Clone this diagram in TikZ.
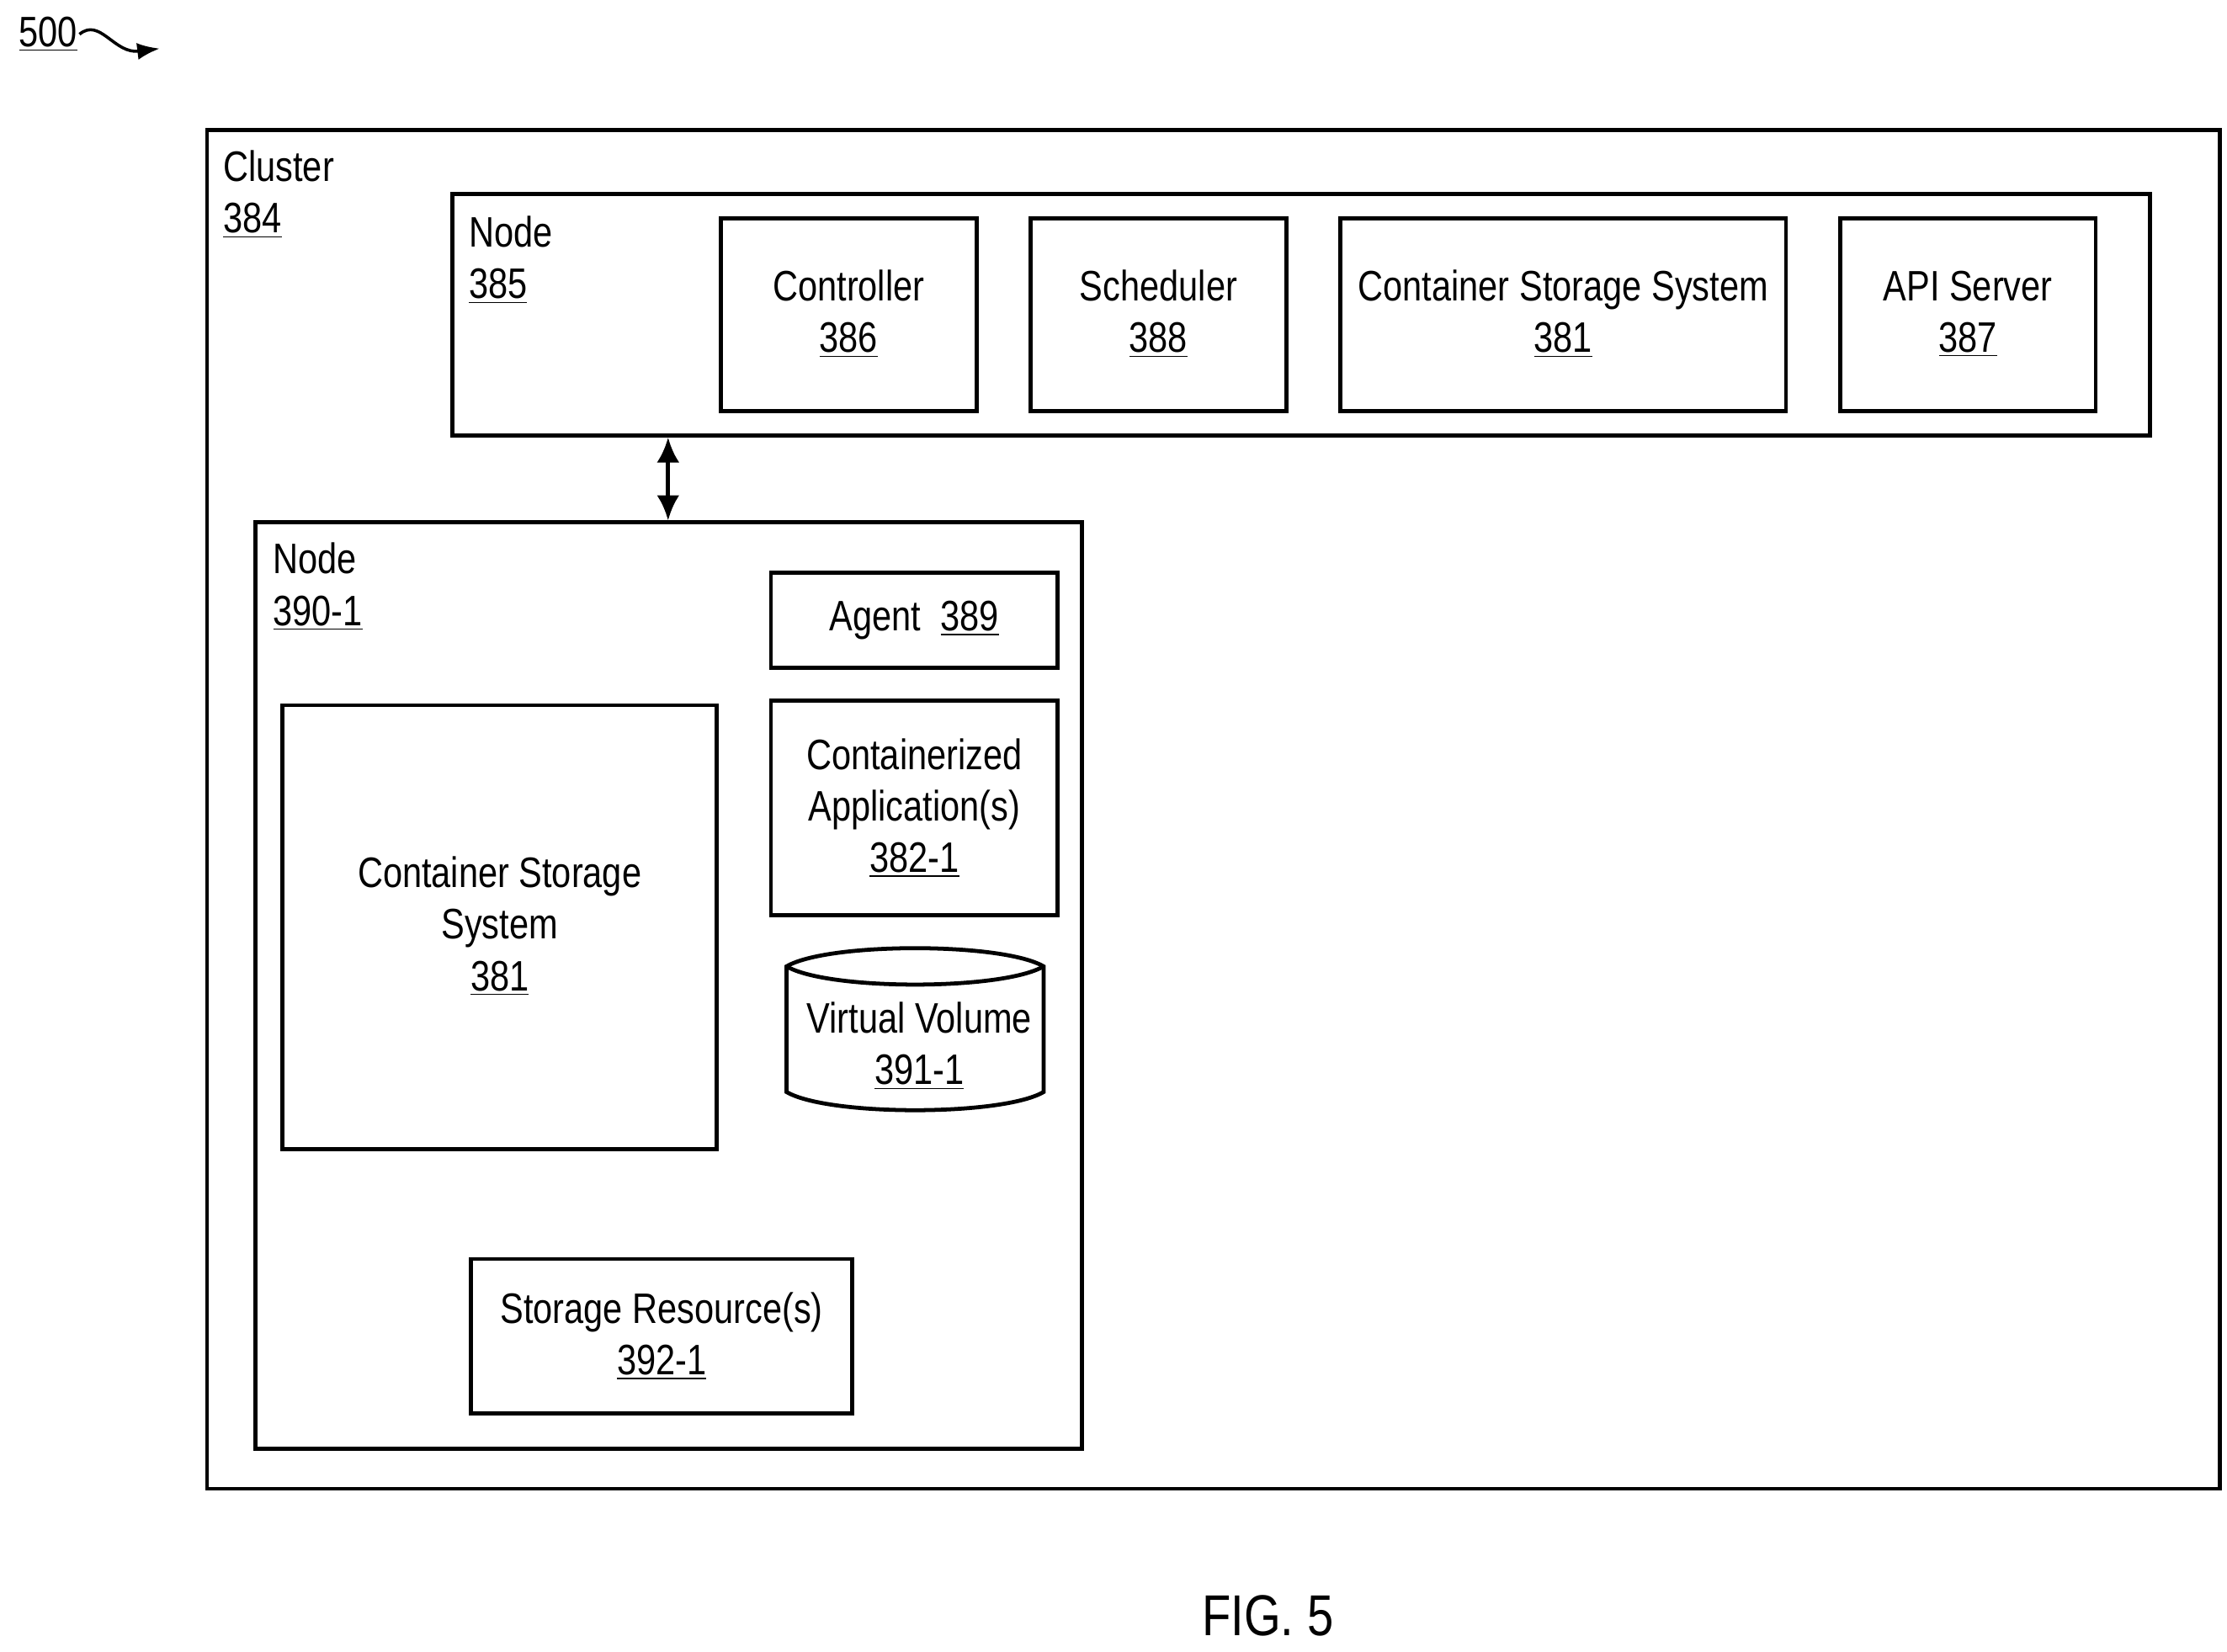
\documentclass[tikz,border=0pt]{standalone}
\usepackage{fontspec}
\usetikzlibrary{arrows.meta}
\setmainfont{Liberation Sans}[FakeStretch=0.82]
\begin{document}
\begin{tikzpicture}[x=0.02cm,y=-0.02cm,line width=1.6pt,
  box/.style={draw,black,line width=1.6pt},
  lbl/.style={inner sep=0pt,anchor=north west,align=left,font=\fontsize{17}{20.5}\selectfont},
  txt/.style={inner sep=0pt,align=center,font=\fontsize{17}{20.5}\selectfont}]
\useasboundingbox (0,0) rectangle (1560,1157);
% 500 label
\node[lbl,anchor=west] (ref) at (12,24) {\underline{500}};
\coordinate (refend) at (112,34);
\draw[line width=1.2pt,-{Latex[length=9pt]}] (ref.east) .. controls (70,12) and (80,38) .. (refend);
% cluster
\draw[box] (145,91) rectangle (1555,1043);
\node[lbl] (cl) at (155,104) {Cluster\\\underline{384}};
% node 385
\draw[box] (317,136) rectangle (1506,305);
\node (n385) at (911.5,220.5) [minimum width=1189*0.02cm,minimum height=169*0.02cm,inner sep=0pt] {};
\node[lbl] (l385) at (327,150) {Node\\\underline{385}};
\draw[box] (505,153) rectangle (684,288); \node[txt] (c386) at (594.5,220) {Controller\\\underline{386}};
\draw[box] (722,153) rectangle (901,288); \node[txt] (s388) at (811.5,220) {Scheduler\\\underline{388}};
\draw[box] (939,153) rectangle (1251,288); \node[txt] (css1) at (1095,220) {Container Storage System\\\underline{381}};
\draw[box] (1289,153) rectangle (1468,288); \node[txt] (api) at (1378.5,220) {API Server\\\underline{387}};
% node 390-1
\draw[box] (179,366) rectangle (758,1015);
\node (n390) at (468.5,690.5) [minimum width=579*0.02cm,minimum height=649*0.02cm,inner sep=0pt] {};
\node[lbl] (l390) at (190,379) {Node\\\underline{390-1}};
\draw[line width=1.6pt,{Latex[length=10pt,width=9pt]}-{Latex[length=10pt,width=9pt]}] (n385.south -| 468,0) -- (n390.north -| 468,0);
\draw[box] (540,401) rectangle (741,468); \node[txt] (ag) at (640.5,434.5) {Agent\ \ \underline{389}};
\draw[box] (540,491) rectangle (741,641); \node[txt] (ca) at (640.5,566) {Containerized\\Application(s)\\\underline{382-1}};
\draw[box] (551,677) .. controls (580,660) and (702,660) .. (731,677) -- (731,765) .. controls (702,782) and (580,782) .. (551,765) -- cycle;
\draw[box] (551,677) .. controls (580,694) and (702,694) .. (731,677);
\node[txt] (vv) at (644,733) {Virtual Volume\\\underline{391-1}};
\draw[box] (198,494) rectangle (502,805); \node[txt] (css2) at (350,649) {Container Storage\\System\\\underline{381}};
\draw[box] (330,882) rectangle (597,990); \node[txt] (sr) at (463.5,936) {Storage Resource(s)\\\underline{392-1}};
\node[txt,font=\fontsize{23}{26}\selectfont] (fig) at (888,1132) {FIG. 5};
\end{tikzpicture}
\end{document}
